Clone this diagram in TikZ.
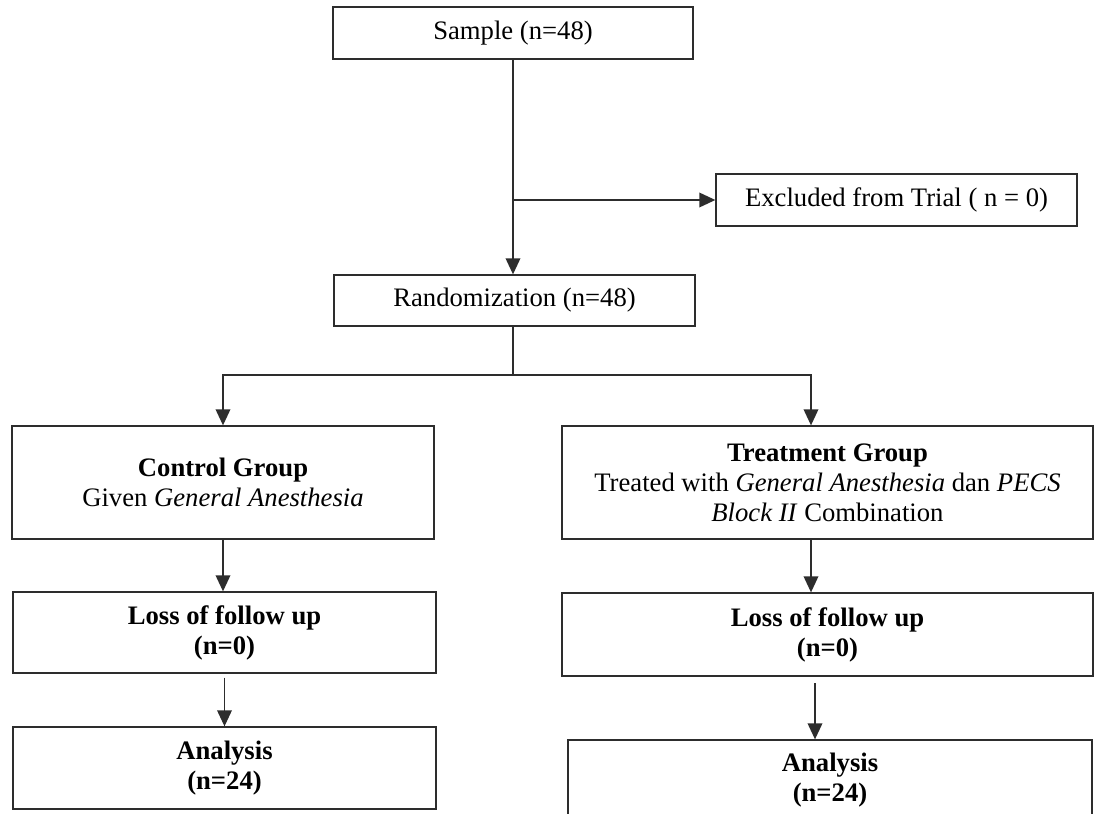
\documentclass[tikz,border=0pt]{standalone}
\usepackage{fontspec}
\setmainfont{Liberation Serif}
\usetikzlibrary{arrows.meta}
\definecolor{lncol}{RGB}{45,45,45}
\begin{document}
\begin{tikzpicture}[x=0.75pt,y=-0.75pt,
  box/.style={draw=lncol, line width=1pt, rectangle, inner sep=0pt, align=center,
              font=\fontsize{20}{22.5}\selectfont},
  wh/.style 2 args={minimum width=#1*0.75pt, minimum height=#2*0.75pt},
  conn/.style={draw=lncol, line width=1pt},
  arr/.style={conn, -{Triangle[length=12pt,width=11pt]}}]
\useasboundingbox (0,0) rectangle (1097,814);
\clip (0,0) rectangle (1097,814);

\node[box, wh={360}{52}] (sample) at (513,33) {Sample (n=48)};
\node[box, wh={361}{52}] (excl) at (896.5,200) {Excluded from Trial ( n = 0)};
\node[box, wh={361}{51}] (rand) at (514.5,300.5) {Randomization (n=48)};
\node[box, wh={422}{113}] (ctrl) at (223,482.5)
  {\textbf{Control Group}\\Given \textit{General Anesthesia}};
\node[box, wh={531}{113}] (treat) at (827.5,482.5)
  {\textbf{Treatment Group}\\Treated with \textit{General Anesthesia} dan \textit{PECS}\\\textit{Block II} Combination};
\node[box, wh={423}{81}] (lossL) at (224.5,632.5)
  {\textbf{Loss of follow up}\\\textbf{(n=0)}};
\node[box, wh={531}{83}] (lossR) at (827.5,634.5)
  {\textbf{Loss of follow up}\\\textbf{(n=0)}};
\node[box, wh={423}{82}] (anaL) at (224.5,768)
  {\textbf{Analysis}\\\textbf{(n=24)}};
\node[box, wh={524}{80}] (anaR) at (830,780)
  {\textbf{Analysis}\\\textbf{(n=24)}};

\coordinate (branch) at (513,200);
\coordinate (split) at (513,375);
\coordinate (tr) at (811,375);
\coordinate (tr2) at (815,700);

\draw[arr] (sample.south) -- (sample.south |- rand.north);
\draw[arr] (branch) -- (excl.west);
\draw[conn] (rand.south -| split) -- (split);
\draw[arr] (split) -| (ctrl.north);
\draw[arr] (split) -- (tr) -- (tr |- treat.north);
\draw[arr] (ctrl.south) -- (ctrl.south |- lossL.north);
\draw[arr, shorten <=3pt] (lossL.south) -- (lossL.south |- anaL.north);
\draw[arr] (treat.south -| tr) -- (lossR.north -| tr);
\draw[arr, shorten <=5pt] (lossR.south -| tr2) -- (anaR.north -| tr2);
\end{tikzpicture}
\end{document}
